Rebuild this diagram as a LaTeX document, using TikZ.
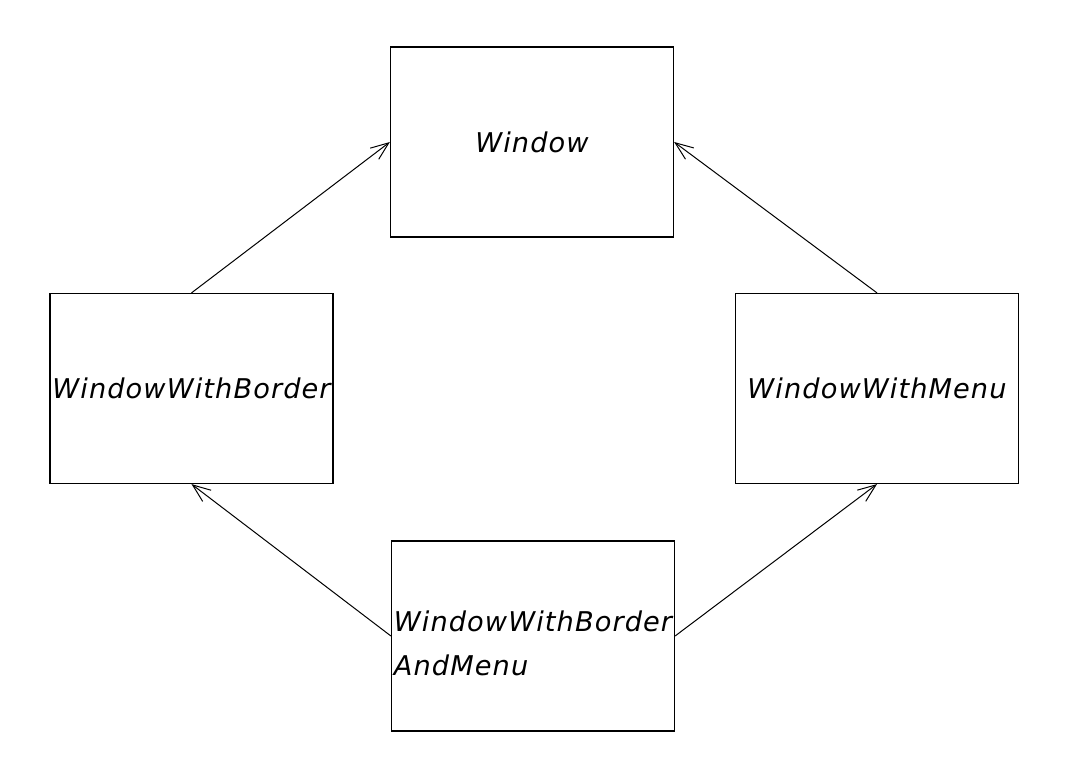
\documentclass[tikz,border=0pt]{standalone}
\usepackage{fontspec}
\setmainfont{DejaVu Sans}[LetterSpace=4]
\usetikzlibrary{arrows.meta}
\tikzset{
  cls/.style={draw,line width=0.6pt,minimum width=141.5pt,minimum height=95pt,
    inner sep=1pt,align=left,font=\fontsize{13.6}{22}\selectfont\itshape},
  inh/.style={-{Straight Barb[length=9pt,width=7pt]},line width=0.5pt}
}
\begin{document}
\begin{tikzpicture}[x=0.5pt,y=-0.5pt]
  \useasboundingbox (0,0) rectangle (1072,779);
  \node[cls] (window) at (532,142) {Window};
  \node[cls] (border) at (191.5,388.5) {WindowWithBorder};
  \node[cls] (menu) at (877,388.5) {WindowWithMenu};
  \node[cls,text height=40pt] (both) at (533,636) {WindowWithBorder\\AndMenu};
  \draw[inh] (border.north) -- (window.west);
  \draw[inh] (menu.north) -- (window.east);
  \draw[inh] (both.west) -- (border.south);
  \draw[inh] (both.east) -- (menu.south);
\end{tikzpicture}
\end{document}
